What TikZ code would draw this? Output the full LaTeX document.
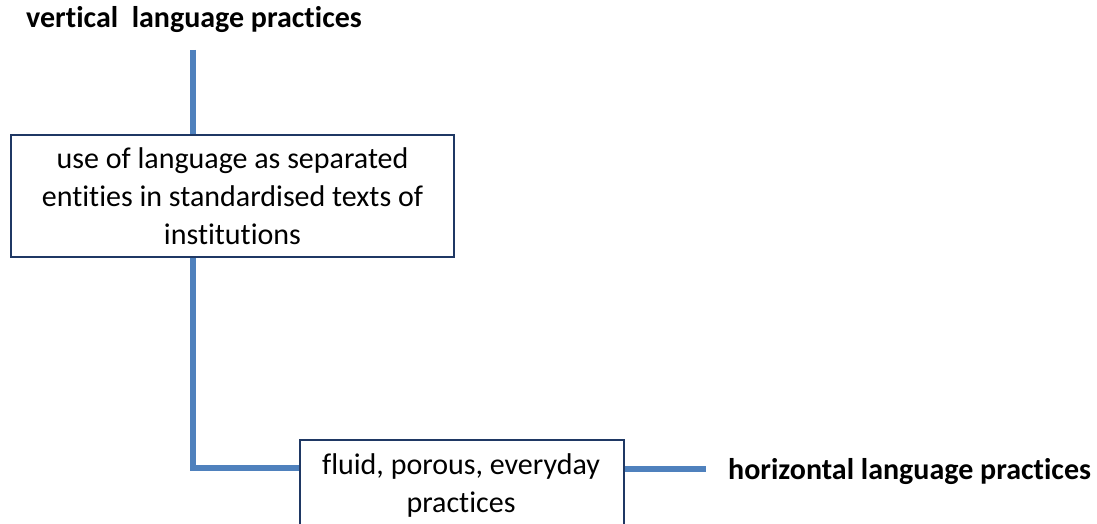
\documentclass[tikz,border=0pt]{standalone}
\usepackage{fontspec}
\setmainfont[Ligatures={NoCommon}]{Carlito}
\definecolor{linkblue}{HTML}{4F81BD}
\definecolor{boxnavy}{HTML}{1F3864}
\begin{document}
\begin{tikzpicture}[x=1pt,y=1pt,
  link/.style={draw=linkblue, line width=6pt},
  textbox/.style={draw=boxnavy, line width=2pt, fill=white},
  boxtext/.style={align=center, font=\fontsize{30}{38}\selectfont, inner sep=0pt},
  heading/.style={font=\fontsize{30}{34}\selectfont\bfseries, inner sep=0pt}]
\useasboundingbox (0,0) rectangle (1097,523);
\clip (0,0) rectangle (1097,523);
\coordinate (vtop) at (193,473);
\coordinate (corner) at (193,55);
\coordinate (hend) at (706,54);
\node[heading, anchor=west] (vert) at (26,503) {vertical\ \ language practices};
\node[heading, anchor=west] (horiz) at (728,51) {horizontal language practices};
\node[textbox, minimum width=443pt, minimum height=122pt] (b1) at (232.5,327) {};
\node[boxtext] (t1) at (b1.center) {use of language as separated\\entities in standardised texts of\\institutions};
\node[textbox, anchor=north west, minimum width=324pt, minimum height=110pt] (b2) at (299,84) {};
\node[boxtext] (t2) at (461,38) {fluid, porous, everyday\\practices};
\draw[link] (vtop) -- (b1.north -| vtop);
\draw[link, line join=miter] (b1.south -| vtop) -- (corner) -- (b2.west |- corner);
\draw[link] (b2.east |- hend) -- (hend);
\end{tikzpicture}
\end{document}
